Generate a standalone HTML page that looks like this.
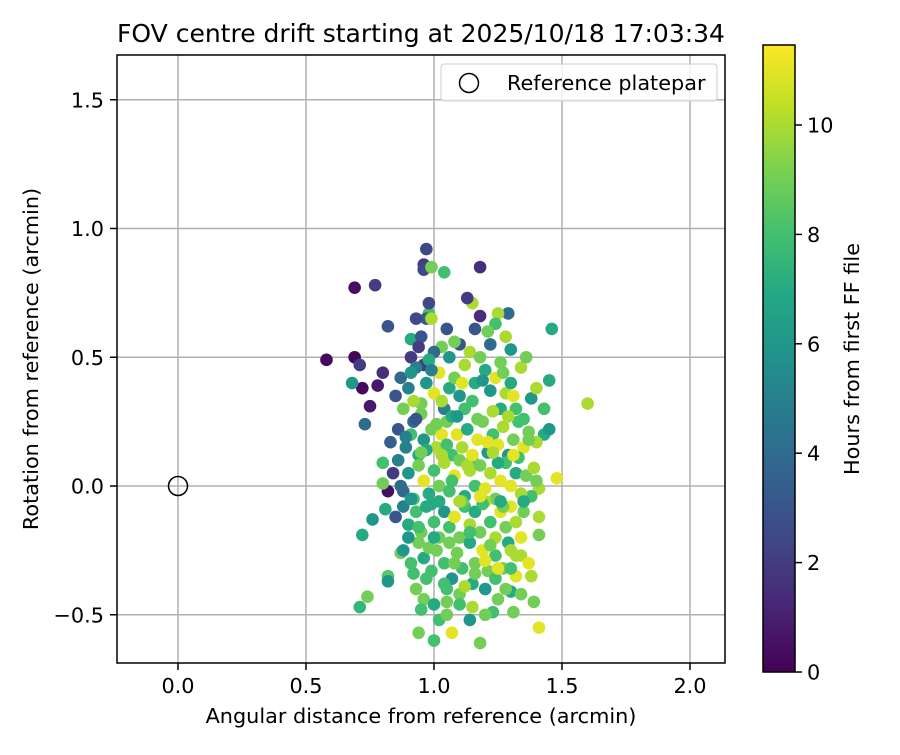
<!DOCTYPE html>
<html><head><meta charset="utf-8"><style>
body{margin:0;background:#fff}
svg text{font-family:"DejaVu Sans","Liberation Sans",sans-serif;fill:#000}
</style></head><body>
<svg id="chart" width="900" height="750" viewBox="0 0 900 750" xmlns="http://www.w3.org/2000/svg">
<defs>
<linearGradient id="vir" x1="0" y1="1" x2="0" y2="0">
<stop offset="0" stop-color="#440154"/><stop offset="0.1" stop-color="#482475"/><stop offset="0.2" stop-color="#414487"/><stop offset="0.3" stop-color="#355f8d"/><stop offset="0.4" stop-color="#2a788e"/><stop offset="0.5" stop-color="#21918c"/><stop offset="0.6" stop-color="#22a884"/><stop offset="0.7" stop-color="#44bf70"/><stop offset="0.8" stop-color="#7ad151"/><stop offset="0.9" stop-color="#bddf26"/><stop offset="1" stop-color="#fde725"/>
</linearGradient>
<clipPath id="clip"><rect x="117" y="55" width="608" height="608"/></clipPath>
</defs>
<text x="421" y="42" font-size="25" text-anchor="middle">FOV centre drift starting at 2025/10/18 17:03:34</text>
<g id="grid"></g>
<g id="points" clip-path="url(#clip)"></g>
<rect x="117" y="55" width="608" height="608" fill="none" stroke="#000" stroke-width="1.5"/>
<g id="ticks"></g>
<text x="421" y="723" font-size="20.8" text-anchor="middle">Angular distance from reference (arcmin)</text>
<text transform="translate(38,359) rotate(-90)" font-size="20.8" text-anchor="middle">Rotation from reference (arcmin)</text>
<g>
<rect x="441" y="64" width="276" height="37" rx="3" fill="#fff" fill-opacity="0.8" stroke="#ccc"/>
<circle cx="469" cy="83" r="9.5" fill="none" stroke="#000" stroke-width="1.5"/>
<text x="507" y="90" font-size="20.8">Reference platepar</text>
</g>
<rect x="763" y="45" width="32" height="627" fill="url(#vir)" stroke="#000" stroke-width="1.5"/>
<g id="cbticks"></g>
<text transform="translate(859,359) rotate(-90)" font-size="20.8" text-anchor="middle">Hours from first FF file</text>
</svg>
<script>
const xTicks=[0.0,0.5,1.0,1.5,2.0];
const yTicks=[-0.5,0.0,0.5,1.0,1.5];
const cbTicks=[0,2,4,6,8,10];
const xs=[0.58,0.69,0.69,0.77,0.71,0.72,0.78,0.75,0.68,0.73,0.72,0.71,0.74,0.80,0.82,0.83,0.80,0.82,0.80,0.81,0.76,0.82,0.82,0.87,0.94,1.00,1.02,1.05,1.07,1.18,1.14,1.23,1.31,1.41,1.39,1.30,1.34,1.38,1.41,1.41,1.41,1.48,1.60,1.46,1.45,1.43,1.43,1.45,1.40,1.38,1.40,1.29,1.18,1.25,1.15,1.18,1.13,1.05,1.04,0.98,0.97,0.93,0.97,0.96,0.96,0.99,0.98,0.99,0.91,0.95,0.94,0.91,0.96,
0.85,0.88,0.90,0.92,0.95,0.97,1.00,1.02,1.04,1.06,1.08,1.10,1.12,1.14,1.16,1.18,1.20,1.22,1.24,1.26,1.28,1.30,1.32,1.34,1.36,1.38,1.40,
1.03,1.06,1.10,1.00,0.93,0.98,1.08,1.22,1.24,1.21,1.16,1.28,1.30,
0.86,0.89,0.91,0.94,0.96,0.99,1.01,1.03,1.05,1.07,1.09,1.11,1.13,1.15,1.17,1.19,1.21,1.23,1.25,1.27,1.29,1.31,1.33,1.35,1.37,1.26,1.12,0.92,
0.84,0.86,0.88,0.90,0.92,0.94,0.96,0.98,1.00,1.02,1.04,1.06,1.08,1.10,1.12,1.14,1.16,1.18,1.20,1.22,1.24,1.26,1.28,1.30,1.32,1.34,1.36,
0.85,0.88,0.90,0.93,0.95,0.97,1.00,1.02,1.04,1.06,1.08,1.10,1.12,1.14,1.16,1.18,1.20,1.22,1.24,1.26,1.28,1.30,1.32,1.35,
0.88,0.91,0.94,0.96,0.99,1.01,1.04,1.07,1.09,1.11,1.14,1.16,1.19,1.21,1.24,1.27,1.29,1.32,1.34,1.37,
1.05,1.10,1.15,1.20,1.25,0.97,0.93,
0.87,0.91,0.95,0.99,1.03,1.07,1.11,1.15,1.19,1.23,1.27,1.31,1.35,
0.89,0.93,0.97,1.01,1.05,1.09,1.13,1.17,1.21,1.25,1.29,1.33,1.37,
0.87,0.91,0.95,0.99,1.03,1.07,1.11,1.15,1.19,1.23,1.27,1.31,1.35,1.39,
0.90,0.94,0.98,1.02,1.06,1.10,1.14,1.18,1.22,1.26,1.30,1.34,
0.92,0.96,1.00,1.04,1.08,1.12,1.16,1.20,1.24,1.28,1.32,
0.95,1.00,1.05,1.10,1.15,1.20,1.25,1.30];
const ys=[0.49,0.50,0.77,0.78,0.47,0.38,0.39,0.31,0.40,0.24,-0.19,-0.47,-0.43,0.44,0.62,0.17,0.09,-0.02,0.01,-0.09,-0.13,-0.35,-0.37,-0.26,-0.57,-0.60,-0.52,-0.45,-0.57,-0.61,-0.52,-0.49,-0.49,-0.55,-0.45,-0.41,-0.42,-0.35,-0.19,-0.12,-0.01,0.03,0.32,0.61,0.41,0.30,0.20,0.22,0.17,-0.04,0.02,0.67,0.85,0.67,0.71,0.66,0.73,0.61,0.83,0.67,0.65,0.65,0.92,0.86,0.84,0.85,0.71,0.65,0.57,0.58,0.54,0.50,0.47,
0.35,0.30,0.38,0.25,0.32,0.40,0.36,0.44,0.30,0.38,0.42,0.35,0.47,0.52,0.40,0.50,0.45,0.37,0.42,0.48,0.36,0.40,0.30,0.46,0.50,0.34,0.38,
0.54,0.50,0.55,0.52,0.46,0.49,0.56,0.55,0.63,0.60,0.61,0.58,0.53,
0.22,0.15,0.20,0.12,0.18,0.22,0.15,0.20,0.25,0.12,0.20,0.15,0.22,0.10,0.18,0.25,0.13,0.20,0.16,0.23,0.12,0.18,0.25,0.15,0.21,0.30,0.30,0.33,
0.05,0.10,-0.02,0.05,-0.05,0.08,0.02,-0.03,0.06,0.00,0.09,-0.02,0.04,0.10,-0.04,0.06,0.00,0.08,-0.01,0.05,-0.05,0.02,0.09,0.00,0.05,-0.03,0.04,
-0.12,-0.08,-0.15,-0.10,-0.18,-0.08,-0.14,-0.20,-0.10,-0.16,-0.12,-0.20,-0.08,-0.15,-0.10,-0.18,-0.06,-0.14,-0.20,-0.10,-0.16,-0.08,-0.14,-0.10,
-0.25,-0.30,-0.22,-0.28,-0.33,-0.25,-0.30,-0.36,-0.26,-0.32,-0.22,-0.30,-0.25,-0.33,-0.27,-0.32,-0.22,-0.35,-0.27,-0.30,
-0.40,-0.42,-0.38,-0.40,-0.44,-0.36,-0.40,
0.42,0.44,0.28,0.45,0.33,0.27,0.40,0.33,0.41,0.29,0.44,0.35,0.26,
0.19,0.26,0.14,0.24,0.16,0.27,0.08,0.26,0.17,0.09,0.27,0.11,0.18,
0.00,-0.05,0.13,-0.07,0.12,0.02,-0.06,0.12,-0.07,0.13,-0.08,0.12,-0.06,0.07,
-0.20,-0.16,-0.24,-0.06,-0.22,-0.06,-0.18,-0.04,-0.23,-0.06,-0.25,-0.20,
-0.34,-0.44,-0.20,-0.38,-0.30,-0.39,-0.34,-0.29,-0.36,-0.40,-0.27,
-0.48,-0.46,-0.50,-0.46,-0.47,-0.50,-0.32,-0.32];
const hours=[0.3,0.2,0.5,2,2,0.3,0.8,0.8,6,4,7,7.5,9,1.5,3,3.5,8,0.5,9,7,6,8.5,6,9,9,8,8,9,11,9,6,8,9,11,9,7,9,10,9,10,10,11,10,7,7,8,7,6,10,8,9,4,1.5,10,10,1.5,2,3,8,8,3.5,2.5,2.5,2,2.5,9,2.5,10,7,3,2,2,2,
3,9,5,4,9,6,11,11,5,7,9,6,10,10,7,9,7,6,11,9,10,7,8,10,9,6,10,
9,6,3,4,5,7,9,4,8,9,3,10,6,
3,5,8,7,6,9,10,11,9,8,11,10,7,8,11,9,6,8,11,10,6,9,8,11,9,7,8,10,
2,5,4,6,8,9,11,7,8,9,10,8,11,9,7,10,8,9,11,10,9,11,8,11,7,10,9,
3,5,7,8,9,7,8,9,6,8,11,9,8,10,7,9,10,8,10,11,9,11,10,9,
6,8,9,7,8,9,8,6,9,8,7,9,11,9,8,9,7,11,10,11,
8,9,7,6,9,8,9,
4,6,9,5,10,7,11,8,6,10,9,11,8,
5,3,7,9,8,6,10,9,11,7,10,8,9,
4,6,9,7,10,8,9,11,8,10,9,11,7,10,
6,8,9,7,9,10,8,11,9,7,10,11,
8,9,7,8,9,10,9,11,8,9,10,
8,7,9,8,10,9,11,8];
const NS="http://www.w3.org/2000/svg";
const X=v=>178+(v)*256, Y=v=>486-v*257.5, CB=h=>672-h*54.7;
const vir=["#440154","#482475","#414487","#355f8d","#2a788e","#21918c","#22a884","#44bf70","#7ad151","#bddf26","#fde725"];
function hex(c){return [1,3,5].map(i=>parseInt(c.substr(i,2),16));}
function color(h){let t=Math.max(0,Math.min(1,h/11.46))*10,i=Math.min(9,Math.floor(t)),f=t-i;const a=hex(vir[i]),b=hex(vir[i+1]);return "rgb("+a.map((v,k)=>Math.round(v+(b[k]-v)*f)).join(",")+")";}
function mk(tag,attrs,parent){const e=document.createElementNS(NS,tag);for(const k in attrs)e.setAttribute(k,attrs[k]);parent.appendChild(e);return e;}
const grid=document.getElementById('grid'),ticks=document.getElementById('ticks'),pts=document.getElementById('points'),cbt=document.getElementById('cbticks');
xTicks.forEach(v=>{const x=X(v);
const g=mk('line',{x1:x,x2:x,y1:55,y2:663,stroke:'#b0b0b0','stroke-width':1.5},grid);


mk('line',{x1:x,x2:x,y1:663,y2:670,stroke:'#000','stroke-width':1.5},ticks);
const t=mk('text',{x:x,y:693,'font-size':20.8,'text-anchor':'middle'},ticks);t.textContent=v.toFixed(1);

});
yTicks.forEach(v=>{const y=Y(v);
const g=mk('line',{x1:117,x2:725,y1:y,y2:y,stroke:'#b0b0b0','stroke-width':1.5},grid);


mk('line',{x1:110,x2:117,y1:y,y2:y,stroke:'#000','stroke-width':1.5},ticks);
const t=mk('text',{x:104,y:y+7.5,'font-size':20.8,'text-anchor':'end'},ticks);t.textContent=(v<0?'\u2212':'')+Math.abs(v).toFixed(1);

});
xs.forEach((v,i)=>{const c=mk('circle',{cx:X(v),cy:Y(ys[i]),r:6.3,fill:color(hours[i])},pts);

});
const ref=mk('circle',{cx:X(0),cy:Y(0),r:9.5,fill:'none',stroke:'#000','stroke-width':1.5},pts);


cbTicks.forEach(v=>{const y=CB(v);
mk('line',{x1:795,x2:802,y1:y,y2:y,stroke:'#000','stroke-width':1.5},cbt);
const t=mk('text',{x:807,y:y+7.5,'font-size':20.8},cbt);t.textContent=v;

});
</script>
</body></html>
